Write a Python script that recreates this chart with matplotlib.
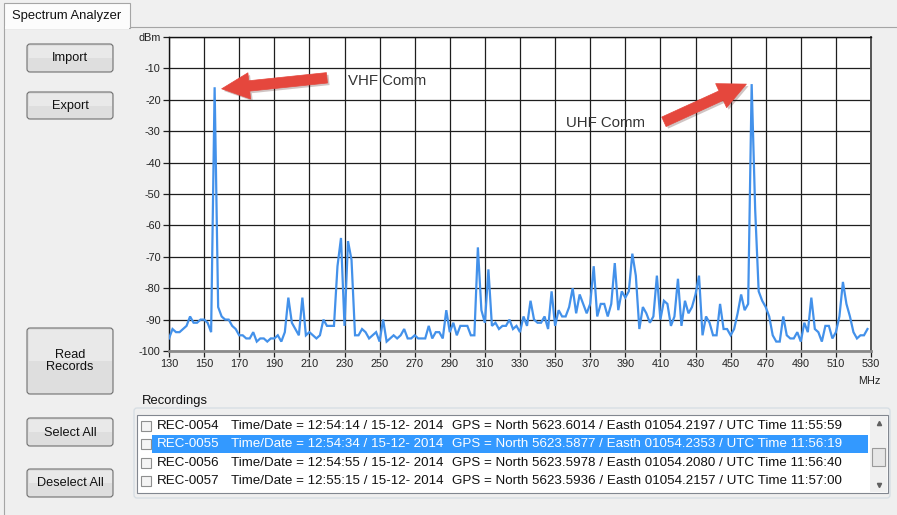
import matplotlib
matplotlib.use("Agg")
import matplotlib.pyplot as plt
import matplotlib.patheffects as pe
import numpy as np
from matplotlib.patches import Rectangle, FancyBboxPatch, FancyArrowPatch, ArrowStyle

plt.rcParams["font.family"] = ["Liberation Sans", "DejaVu Sans"]

# spectrum sweep: first frequency, step (MHz) and measured level per step (dBm)
FREQ_START = 130
FREQ_STEP = 2
levels = [
    -96, -93, -94, -94, -93, -92, -89, -91, -91, -90,
    -90, -91, -94, -16, -86, -89, -90, -90, -92, -93,
    -95, -95, -96, -96, -94, -97, -96, -96, -97, -96,
    -96, -95, -97, -94, -83, -91, -93, -95, -83, -95,
    -94, -95, -96, -95, -90, -92, -92, -92, -73, -64,
    -92, -65, -71, -95, -95, -93, -94, -96, -95, -94,
    -97, -90, -97, -96, -95, -96, -95, -93, -96, -96,
    -95, -96, -96, -96, -92, -96, -94, -94, -96, -87,
    -94, -91, -95, -92, -92, -92, -95, -95, -67, -87,
    -91, -74, -92, -91, -93, -92, -92, -90, -93, -92,
    -94, -89, -92, -84, -90, -91, -91, -89, -93, -81,
    -92, -87, -89, -89, -86, -80, -88, -82, -85, -88,
    -85, -73, -89, -85, -85, -89, -85, -72, -87, -81,
    -83, -81, -69, -76, -93, -86, -88, -91, -89, -76,
    -90, -84, -85, -92, -89, -77, -92, -84, -88, -86,
    -82, -76, -95, -89, -91, -95, -95, -85, -93, -93,
    -95, -93, -88, -82, -87, -85, -15, -55, -81, -84,
    -86, -89, -95, -97, -97, -89, -95, -96, -96, -94,
    -97, -91, -94, -83, -93, -94, -97, -92, -92, -96,
    -94, -89, -78, -85, -89, -94, -96, -95, -95, -93,
]

x_ticks = [130, 150, 170, 190, 210, 230, 250, 270, 290, 310, 330,
           350, 370, 390, 410, 430, 450, 470, 490, 510, 530]
y_ticks = [0, -10, -20, -30, -40, -50, -60, -70, -80, -90, -100]
y_tick_labels = ["dBm", "-10", "-20", "-30", "-40", "-50", "-60",
                 "-70", "-80", "-90", "-100"]

# arrow annotations: label, arrow head (MHz, dBm), arrow tail, label position
notes = [
    ("VHF Comm", (160, -16.5), (220, -13), (232, -14)),
    ("UHF Comm", (459, -15), (412, -27), (356, -27.5)),
]

# recordings list
rec_ids = ["REC-0054", "REC-0055", "REC-0056", "REC-0057"]
rec_times = ["12:54:14", "12:54:34", "12:54:55", "12:55:15"]
rec_date = "15-12- 2014"
rec_north = ["5623.6014", "5623.5877", "5623.5978", "5623.5936"]
rec_east = ["01054.2197", "01054.2353", "01054.2080", "01054.2157"]
rec_utc = ["11:55:59", "11:56:19", "11:56:40", "11:57:00"]
selected_row = 1

W, H = 897, 515
BG = "#f0f0f0"
TRACE = "#4391ea"
ARROW = "#e5473d"
LIST_FS = 9.6

fig = plt.figure(figsize=(W / 100, H / 100), dpi=100, facecolor=BG)

# full-figure axes in pixel coordinates for the window chrome
ui = fig.add_axes([0, 0, 1, 1], zorder=0)
ui.set_xlim(0, W)
ui.set_ylim(H, 0)
ui.axis("off")

ui.add_patch(Rectangle((4, 27), W, H, fc="#efefef", ec="#a5a5a5", lw=0.8))
ui.add_patch(Rectangle((4, 3), 126, 25, fc="#fcfcfc", ec="#a5a5a5", lw=0.8))
ui.add_patch(Rectangle((4.6, 26), 124.8, 3, fc="#fcfcfc", ec="none"))
ui.text(12, 16, "Spectrum Analyzer", fontsize=9.4, va="center", ha="left", color="#111111")


def draw_button(x0, y0, x1, y1, label):
    ui.add_patch(FancyBboxPatch((x0, y0), x1 - x0, y1 - y0,
                                boxstyle="round,pad=0,rounding_size=3",
                                fc="#dedede", ec="#707070", lw=0.8))
    ui.add_patch(Rectangle((x0 + 1.5, y0 + 1.5), x1 - x0 - 3, (y1 - y0) / 2 - 1.5,
                           fc="#e9e9e9", ec="none"))
    ui.text((x0 + x1) / 2, (y0 + y1) / 2 + 0.5, label, fontsize=9.2,
            ha="center", va="center", color="#111111", linespacing=1.0)


draw_button(27, 44, 113, 72, "Import")
draw_button(27, 92, 113, 119, "Export")
draw_button(27, 328, 113, 394, "Read\nRecords")
draw_button(27, 418, 113, 446, "Select All")
draw_button(27, 469, 113, 497, "Deselect All")

# recordings group box
ui.add_patch(FancyBboxPatch((134, 408), 756, 90, boxstyle="round,pad=0,rounding_size=3",
                            fc="none", ec="#d5dde3", lw=0.9))
ui.add_patch(Rectangle((140, 394), 72, 12, fc="#efefef", ec="none"))
ui.text(142, 401, "Recordings", fontsize=9.4, ha="left", va="center", color="#111111")
ui.add_patch(Rectangle((137, 415), 751, 78, fc="white", ec="#828790", lw=0.8))

row_y0, row_dy = 426, 18.3
for i, rid in enumerate(rec_ids):
    yc = row_y0 + i * row_dy
    fg = "#111111"
    if i == selected_row:
        ui.add_patch(Rectangle((152, yc - 9), 716, 18, fc="#3399ff", ec="none"))
        fg = "white"
    ui.add_patch(Rectangle((141, yc - 5), 10, 10, fc="#f4f4f4", ec="#8e8f8f", lw=0.8))
    ui.text(157, yc, rid, fontsize=LIST_FS, ha="left", va="center", color=fg)
    ui.text(231, yc, f"Time/Date = {rec_times[i]} / {rec_date}", fontsize=LIST_FS,
            ha="left", va="center", color=fg)
    ui.text(452, yc, f"GPS = North {rec_north[i]} / Easth {rec_east[i]} / UTC Time {rec_utc[i]}",
            fontsize=LIST_FS, ha="left", va="center", color=fg)

# scrollbar
ui.add_patch(Rectangle((870, 416), 17, 76, fc="#f0f0f0", ec="none"))
ui.add_patch(Rectangle((872, 448), 13, 18, fc="#e6e6e6", ec="#9a9a9a", lw=0.8))
ui.plot([878.5], [423], marker="^", ms=3, color="#606060", ls="none")
ui.plot([878.5], [485], marker="v", ms=3, color="#606060", ls="none")

# spectrum chart
ax = fig.add_axes([169 / W, 1 - 351 / H, 702 / W, 314 / H], zorder=1)
ax.set_facecolor("white")
freqs = FREQ_START + FREQ_STEP * np.arange(len(levels))
ax.plot(freqs, levels, color=TRACE, lw=1.6, solid_joinstyle="miter", zorder=3)

ax.set_xlim(130, 530)
ax.set_ylim(-100, 0)
ax.set_xticks(x_ticks)
ax.set_yticks(y_ticks)
ax.set_yticklabels(y_tick_labels)
ax.grid(True, color="#1e1e1e", lw=0.9, zorder=1)
ax.set_axisbelow(True)
ax.tick_params(axis="both", direction="out", length=4, width=0.9, color="#1e1e1e",
               labelsize=7.8, labelcolor="#222222", pad=2)
for side in ["left", "top"]:
    ax.spines[side].set_color("#111111")
    ax.spines[side].set_linewidth(1.0)
ax.spines["right"].set_color("#555555")
ax.spines["right"].set_linewidth(1.4)
ax.spines["bottom"].set_color("#8a8a8a")
ax.spines["bottom"].set_linewidth(2.0)
fig.text(880 / W, 1 - 381 / H, "MHz", fontsize=7.8, ha="right", va="center", color="#222222")

for label, head, tail, text_pos in notes:
    arrow = FancyArrowPatch(tail, head, shrinkA=0, shrinkB=0, mutation_scale=10,
                            arrowstyle=ArrowStyle.Simple(head_length=2.0, head_width=1.9,
                                                         tail_width=0.75),
                            fc=ARROW, ec=ARROW, lw=0.5, zorder=5, clip_on=False)
    arrow.set_path_effects([pe.SimplePatchShadow(offset=(1.5, -1.5), alpha=0.25), pe.Normal()])
    ax.add_patch(arrow)
    ax.text(text_pos[0], text_pos[1], label, fontsize=10.8, ha="left", va="center",
            color="#333333", zorder=6)

fig.savefig("out.png", dpi=100, facecolor=BG)
